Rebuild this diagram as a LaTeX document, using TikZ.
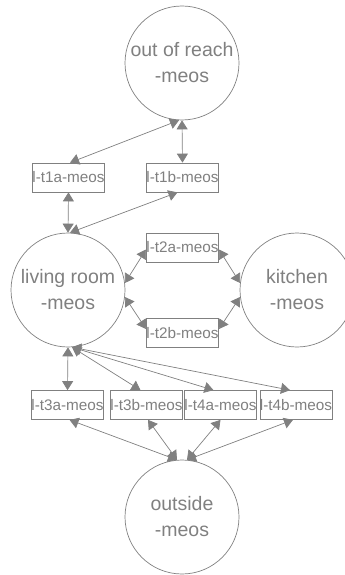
\documentclass[tikz,border=0pt]{standalone}
\usepackage{fontspec}
\setmainfont{Liberation Sans}
\usetikzlibrary{arrows.meta}
\definecolor{ink}{HTML}{808080}
\begin{document}
\begin{tikzpicture}[x=1pt,y=-1pt,
  state/.style={circle,draw=ink,line width=0.7pt,minimum size=114pt,inner sep=0pt,
    text=ink,font=\fontsize{19.5}{26}\selectfont,align=center},
  trans/.style={rectangle,draw=ink,line width=0.7pt,minimum width=71pt,minimum height=29pt,
    inner sep=0pt,text=ink,font=\fontsize{15.3}{16}\selectfont},
  link/.style={draw=ink,line width=0.7pt,
    {Triangle[length=9pt,width=11pt]}-{Triangle[length=9pt,width=11pt]}}]
\useasboundingbox (0,0) rectangle (345,575);

% places
\node[state] (reach)   at (182,63)  {out of reach\\-meos};
\node[state] (living)  at (68,290)  {living room\\-meos};
\node[state] (kitchen) at (297,290) {kitchen\\-meos};
\node[state] (outside) at (182,517) {outside\\-meos};

% transitions
\node[trans] (t1a) at (68.5,177.5)  {l-t1a-meos};
\node[trans] (t1b) at (182.5,177.5) {l-t1b-meos};
\node[trans] (t2a) at (182.5,247.5) {l-t2a-meos};
\node[trans] (t2b) at (182.5,333)   {l-t2b-meos};
\node[trans] (t3a) at (67.5,405)    {l-t3a-meos};
\node[trans] (t3b) at (146.5,405)   {l-t3b-meos};
\node[trans] (t4a) at (220.5,405)   {l-t4a-meos};
\node[trans] (t4b) at (296,405)     {l-t4b-meos};

% out of reach <-> living room
\draw[link] ([xshift=1.5pt]t1a.north) -- (reach.267);
\draw[link] (t1b.north) -- (reach.south);
\draw[link] (t1a.south) -- (living.north);
\draw[link] ([xshift=-5pt]t1b.south) -- (living.88);

% living room <-> kitchen
\draw[link] (living.7) -- ([yshift=-2pt]t2a.west);
\draw[link] ([yshift=-2pt]t2a.east) -- (kitchen.173);
\draw[link] (living.-7) -- ([yshift=4pt]t2b.west);
\draw[link] ([yshift=4pt]t2b.east) -- (kitchen.187);

% living room <-> outside
\draw[link] (living.south) -- (t3a.north);
\draw[link] (living.-86) -- ([xshift=-6pt]t3b.north);
\draw[link] (living.-86) -- ([xshift=-7pt]t4a.north);
\draw[link] (living.-86) -- ([xshift=-6pt]t4b.north);
\draw[link] ([xshift=2pt]t3a.south) -- (outside.95);
\draw[link] ([xshift=1.5pt]t3b.south) -- (outside.95);
\draw[link] (t4a.south) -- (outside.85);
\draw[link] ([xshift=-3pt]t4b.south) -- (outside.85);
\end{tikzpicture}
\end{document}
